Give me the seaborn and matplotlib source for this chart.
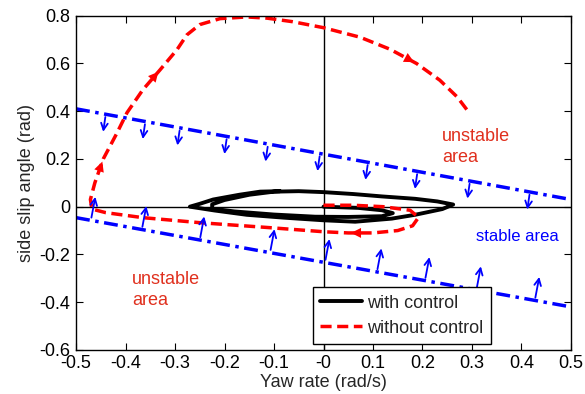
import matplotlib
matplotlib.use("Agg")
import matplotlib.pyplot as plt
import seaborn as sns
import numpy as np
import pandas as pd

# trajectory with control (yaw rate, side slip)
yaw_ctrl = [0.0, 0.07, 0.118, 0.14, 0.118, 0.05, -0.017, -0.1, -0.18, -0.225, -0.225, -0.2,
            -0.15, -0.1, -0.05, 0.0, 0.06, 0.118, 0.185, 0.23, 0.262, 0.24, 0.185, 0.138,
            0.064, 0.0, -0.08, -0.155, -0.22, -0.27, -0.25, -0.223, -0.17, -0.128, -0.088]
slip_ctrl = [0.0, -0.005, -0.015, -0.027, -0.04, -0.043, -0.042, -0.033, -0.02, -0.008, 0.01, 0.028,
             0.05, 0.063, 0.065, 0.061, 0.053, 0.043, 0.033, 0.022, 0.009, -0.01, -0.034, -0.05,
             -0.063, -0.057, -0.046, -0.034, -0.016, 0.0, 0.012, 0.03, 0.05, 0.063, 0.065]

# trajectory without control
yaw_free = [0.0, 0.06, 0.12, 0.175, 0.192, 0.18, 0.15, 0.1, 0.05, 0.0, -0.108, -0.25, -0.365,
            -0.44, -0.468, -0.471, -0.462, -0.445, -0.417, -0.397, -0.365, -0.33, -0.296, -0.276,
            -0.25, -0.209, -0.155, -0.114, -0.062, 0.0, 0.074, 0.134, 0.188, 0.235, 0.27, 0.292]
slip_free = [0.006, 0.006, 0.0, -0.015, -0.045, -0.08, -0.1, -0.11, -0.11, -0.105, -0.088, -0.067, -0.046,
             -0.025, -0.01, 0.03, 0.1, 0.2, 0.31, 0.394, 0.49, 0.574, 0.658, 0.72,
             0.763, 0.788, 0.795, 0.79, 0.775, 0.75, 0.71, 0.66, 0.6, 0.53, 0.46, 0.4]

# stability boundaries
bound_x = [-0.5, 0.5]
upper_bound = [0.41, 0.03]
lower_bound = [-0.046, -0.42]
down_arrow_x = [-0.44, -0.36, -0.29, -0.195, -0.112, -0.007, 0.09, 0.19, 0.296, 0.417]
up_arrow_x = [-0.47, -0.367, -0.25, -0.108, 0.003, 0.108, 0.205, 0.309, 0.427]

x_ticks = np.round(np.arange(-0.5, 0.51, 0.1), 1)
y_ticks = np.round(np.arange(-0.6, 0.81, 0.2), 1)

sns.set_style("ticks")
plt.rcParams['font.family'] = ['Liberation Sans', 'DejaVu Sans']

fig = plt.figure(figsize=(5.85, 3.94), dpi=100)
ax = fig.add_axes([0.13, 0.112, 0.846, 0.848])

ax.axhline(0, color='k', lw=1, zorder=1)
ax.axvline(0, color='k', lw=1, zorder=1)

df_b = pd.DataFrame({"x": bound_x * 2, "y": upper_bound + lower_bound,
                     "side": ["up", "up", "low", "low"]})
for side in ["up", "low"]:
    d = df_b[df_b.side == side]
    l = sns.lineplot(data=d, x="x", y="y", ax=ax, color='blue', lw=2.5, sort=False, estimator=None)
    l.lines[-1].set_dashes((4, 1.6, 1, 1.6))

for xa in down_arrow_x:
    ya = np.interp(xa, bound_x, upper_bound)
    ax.annotate("", xy=(xa - 0.006, ya - 0.085), xytext=(xa, ya),
                arrowprops=dict(arrowstyle='->', color='blue', lw=1.3, mutation_scale=12))
for xa in up_arrow_x:
    ya = np.interp(xa, bound_x, lower_bound)
    ax.annotate("", xy=(xa + 0.01, ya + 0.11), xytext=(xa, ya),
                arrowprops=dict(arrowstyle='->', color='blue', lw=1.3, mutation_scale=12))

sns.lineplot(x=yaw_ctrl, y=slip_ctrl, ax=ax, color='k', lw=2.8, sort=False, estimator=None,
             label='with control')
sns.lineplot(x=yaw_free, y=slip_free, ax=ax, color='red', lw=2.5, sort=False, estimator=None,
             label='without control')
ax.lines[-1].set_dashes((3.2, 1.6))

# direction arrows on the uncontrolled path
for i in [16, 20, 31, 7]:
    ax.annotate("", xy=(yaw_free[i + 1], slip_free[i + 1]), xytext=(yaw_free[i], slip_free[i]),
                arrowprops=dict(arrowstyle='-|>', color='red', lw=0, mutation_scale=18))

ax.text(0.239, 0.25, "unstable\narea", color='#E0301E', fontsize=13, va='center', linespacing=1.3)
ax.text(-0.387, -0.348, "unstable\narea", color='#E0301E', fontsize=13, va='center', linespacing=1.3)
ax.text(0.308, -0.126, "stable area", color='blue', fontsize=12, va='center')

ax.set_xlim(-0.5, 0.5)
ax.set_ylim(-0.6, 0.8)
ax.set_xticks(x_ticks)
ax.set_yticks(y_ticks)
ax.set_xticklabels([f"{v:g}" for v in x_ticks])
ax.set_yticklabels([f"{v:g}" for v in y_ticks])
ax.tick_params(direction='in', top=True, right=True, length=5, labelsize=13, colors='k', pad=4)
for s in ax.spines.values():
    s.set_visible(True)
    s.set_color('k')
    s.set_linewidth(1)
ax.set_xlabel("Yaw rate (rad/s)", fontsize=13, labelpad=1)
ax.set_ylabel("side slip angle (rad)", fontsize=13, labelpad=3)

leg = ax.legend(loc='lower left', bbox_to_anchor=(0.479, 0.018), fontsize=13, frameon=True,
                fancybox=False, edgecolor='k', framealpha=1, borderpad=0.4, handlelength=2.3,
                handletextpad=0.3, labelspacing=0.45, borderaxespad=0)
leg.get_frame().set_linewidth(1)

fig.savefig("out.png", dpi=100)
